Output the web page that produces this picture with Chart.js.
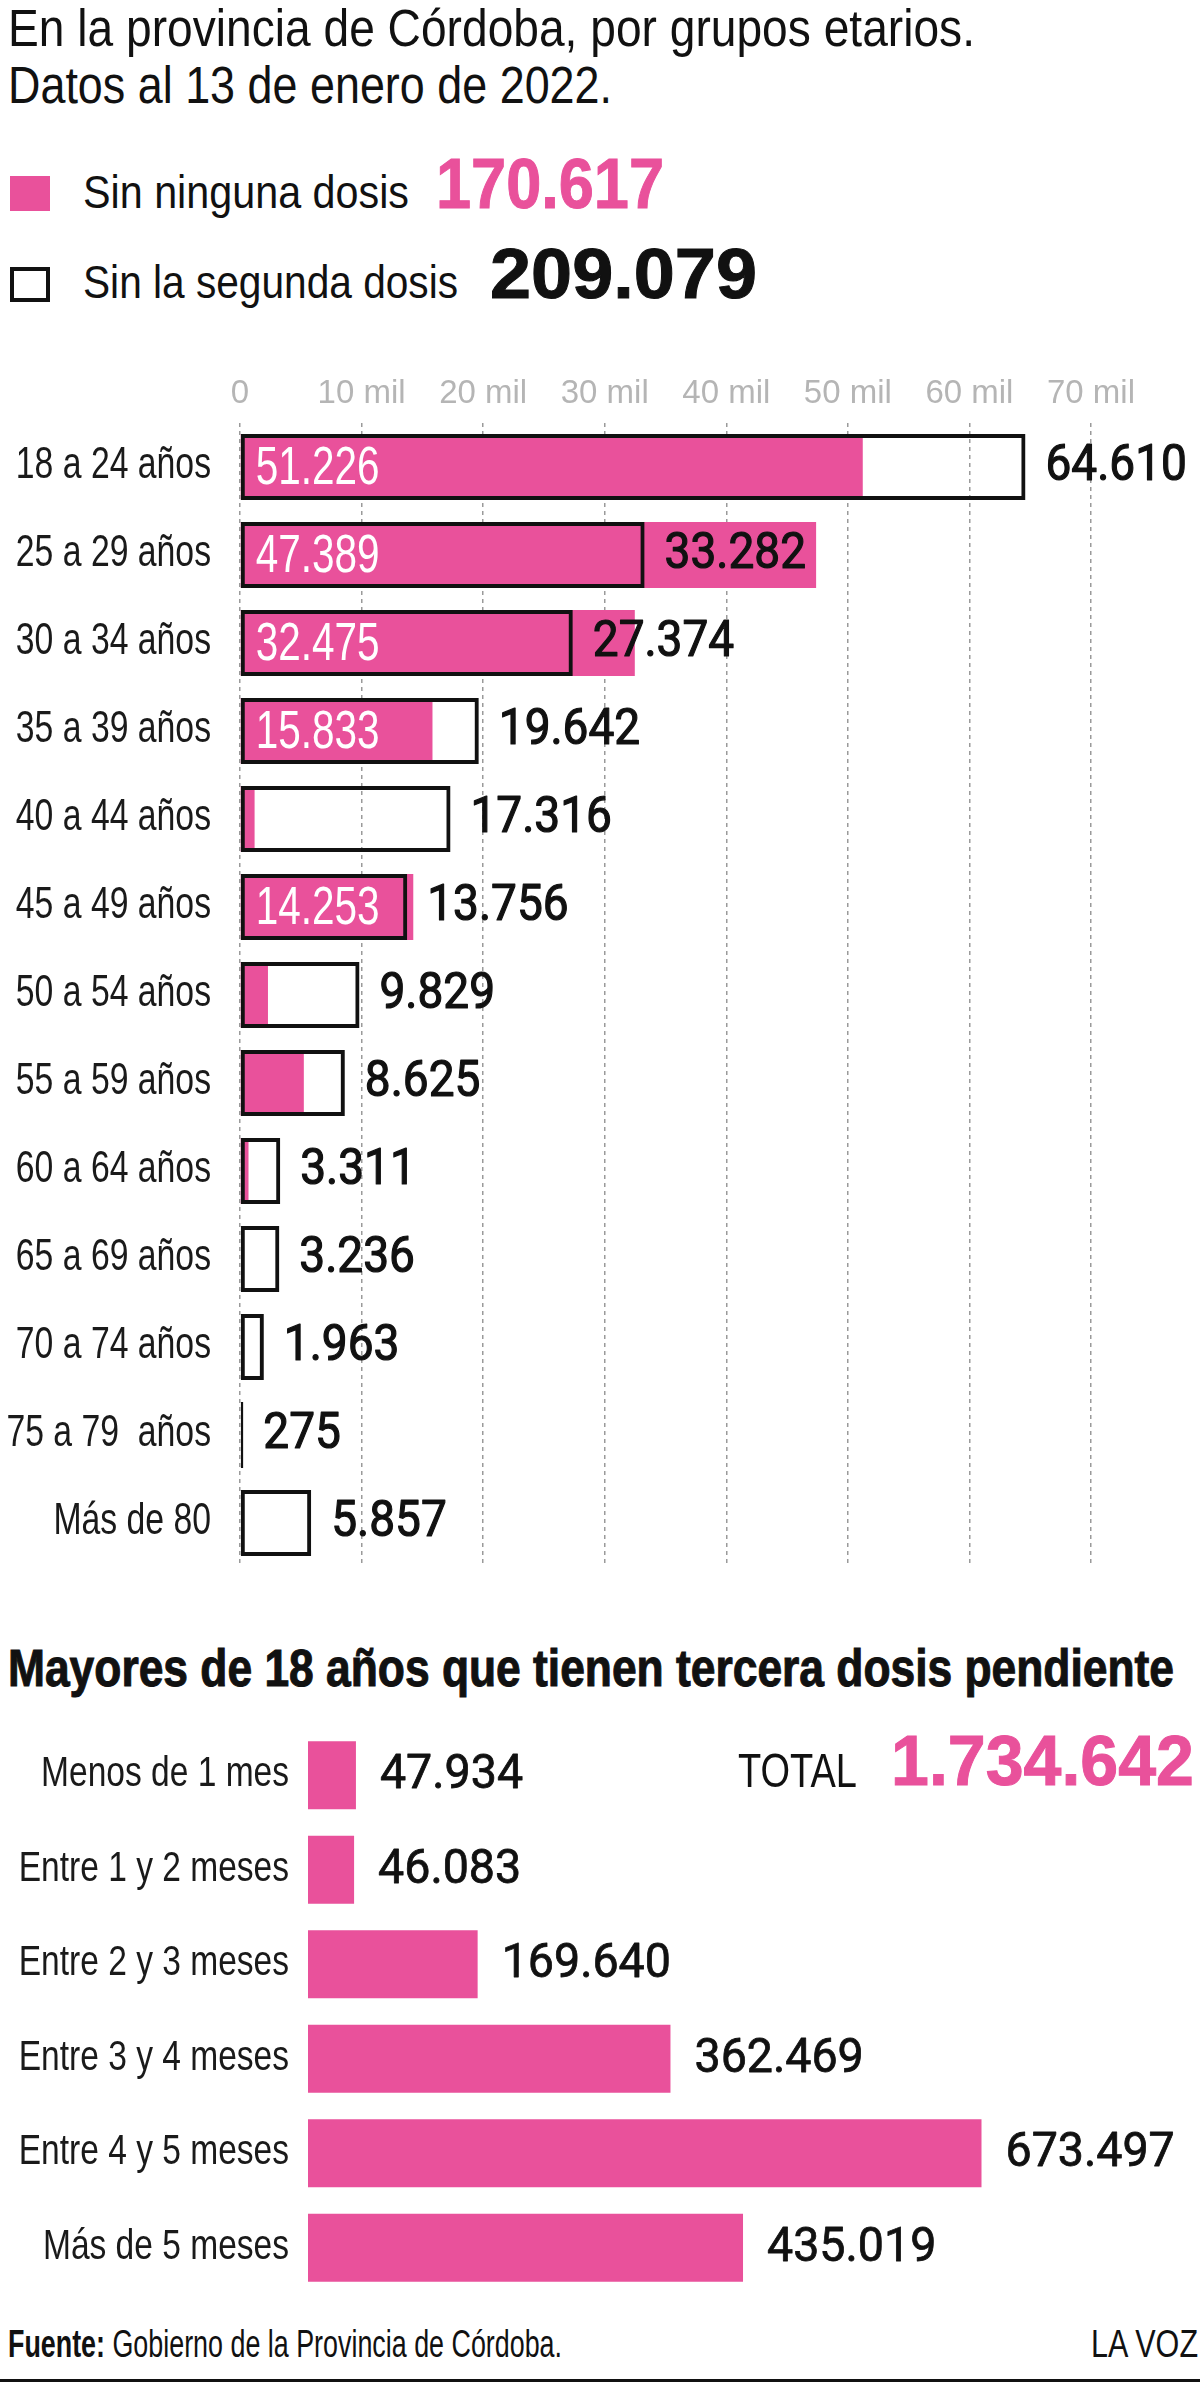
<!DOCTYPE html>
<html lang="es">
<head>
<meta charset="utf-8">
<title>Córdoba - dosis pendientes</title>
<script src="https://cdn.jsdelivr.net/npm/chart.js@4.4.0/dist/chart.umd.min.js"></script>
<style>
  html, body { margin:0; padding:0; background:#fff; }
  body { width:1200px; height:2400px; position:relative; overflow:hidden; }
  canvas { position:absolute; left:0; }
  .t { position:absolute; white-space:nowrap; line-height:1; color:#111; z-index:2; }
  #rule { position:absolute; left:0; width:1200px; top:2379px; height:3px; background:#111; }
</style>
</head>
<body>
<canvas id="c1" width="1200" height="1240" style="top:340px"></canvas>
<canvas id="c2" width="1200" height="600" style="top:1720px"></canvas>
<div id="legPink" style="position:absolute;left:10px;top:176px;width:40px;height:35px;background:#E9519B"></div>
<div id="legBox" style="position:absolute;left:10px;top:267px;width:40px;height:35px;border:4px solid #111;box-sizing:border-box"></div>
<div id="rule"></div>
<script>
// ---------------- DATA ----------------
const ageGroups = ['18 a 24 años','25 a 29 años','30 a 34 años','35 a 39 años','40 a 44 años','45 a 49 años','50 a 54 años','55 a 59 años','60 a 64 años','65 a 69 años','70 a 74 años','75 a 79  años','Más de 80'];
const sinNingunaDosis = [51226, 47389, 32475, 15833, 1200, 14253, 2300, 5250, 700, 0, 0, 0, 0];
const sinSegundaDosis = [64610, 33282, 27374, 19642, 17316, 13756, 9829, 8625, 3311, 3236, 1963, 275, 5857];
const xTickValues = [0, 10000, 20000, 30000, 40000, 50000, 60000, 70000];
const xTickLabels = ['0', '10 mil', '20 mil', '30 mil', '40 mil', '50 mil', '60 mil', '70 mil'];
const totalSinNinguna = 170617;
const totalSinSegunda = 209079;

const pendingGroups = ['Menos de 1 mes','Entre 1 y 2 meses','Entre 2 y 3 meses','Entre 3 y 4 meses','Entre 4 y 5 meses','Más de 5 meses'];
const terceraDosisPendiente = [47934, 46083, 169640, 362469, 673497, 435019];
const totalTercera = 1734642;

const titleLines = ['En la provincia de Córdoba, por grupos etarios.', 'Datos al 13 de enero de 2022.'];
const legendLabels = ['Sin ninguna dosis', 'Sin la segunda dosis'];
const heading2 = 'Mayores de 18 años que tienen tercera dosis pendiente';
const sourceText = 'Gobierno de la Provincia de Córdoba.';

// ---------------- STYLE ----------------
const PINK = '#E9519B';
const SANS = '"Liberation Sans", Arial, sans-serif';
const NUM = 'Roboto, "Liberation Sans", sans-serif';
const fmt = n => String(n).replace(/\B(?=(\d{3})+(?!\d))/g, '.');

function place(html, o) {
  const d = document.createElement('div');
  d.className = 't';
  d.innerHTML = html;
  d.style.fontSize = o.size + 'px';
  d.style.fontFamily = o.fam || SANS;
  d.style.fontWeight = o.weight || 'normal';
  if (o.color) d.style.color = o.color;
  if (o.stroke) d.style.webkitTextStroke = o.stroke + 'px ' + (o.color || '#111');
  d.style.top = (o.b - 0.8465 * o.size) + 'px';
  if (o.right != null) { d.style.right = o.right + 'px'; d.style.transformOrigin = 'right center'; }
  else { d.style.left = o.x + 'px'; d.style.transformOrigin = 'left center'; }
  document.body.appendChild(d);
  if (o.w) {
    const r = d.getBoundingClientRect().width;
    if (r > 0) d.style.transform = 'scaleX(' + (o.w / r) + ')';
  }
  return d;
}

// Titles / legend
place(titleLines[0], {x:8, b:46, size:51, w:967});
place(titleLines[1], {x:8, b:103, size:51, w:604});
place(legendLabels[0], {x:83, b:208, size:46, w:326});
place(fmt(totalSinNinguna), {x:436, b:208, size:70, weight:'bold', fam:SANS, color:PINK, w:228, stroke:1});
place(legendLabels[1], {x:83, b:298, size:46, w:375});
place(fmt(totalSinSegunda), {x:490, b:298, size:70, weight:'bold', fam:SANS, w:267, stroke:1});
place(heading2, {x:8, b:1686, size:51, weight:'bold', w:1166, stroke:1});
place('TOTAL', {x:738, b:1787, size:49, w:119});
place(fmt(totalTercera), {x:891, b:1785, size:70, weight:'bold', fam:SANS, color:PINK, w:303, stroke:1});
place('<b>Fuente:</b> ' + sourceText, {x:8, b:2357, size:38, w:554});
place('LA VOZ', {right:2, b:2357, size:38, w:107});

// draw text compressed horizontally (condensed look); optional light stroke for a medium weight
function drawText(ctx, text, x, y, font, color, align, sx, stroke) {
  ctx.save();
  ctx.font = font;
  ctx.fillStyle = color;
  ctx.strokeStyle = color;
  ctx.textAlign = align;
  ctx.textBaseline = 'middle';
  ctx.translate(x, y);
  ctx.scale(sx, 1);
  ctx.fillText(text, 0, 0);
  if (stroke) { ctx.lineWidth = stroke; ctx.lineJoin = 'round'; ctx.strokeText(text, 0, 0); }
  ctx.restore();
}

// category labels drawn at the positions of the y scale's ticks
function categoryLabels(id, names, size, sx, pad) {
  return {
    id,
    afterDraw(chart) {
      const s = chart.scales.y;
      names.forEach((name, i) => {
        drawText(chart.ctx, name, s.right - pad, s.getPixelForTick(i) - 1, size + 'px ' + SANS, '#1a1a1a', 'right', sx);
      });
    }
  };
}

// ---------------- CHART 1 ----------------
const labels1 = {
  id: 'labels1',
  afterDatasetsDraw(chart) {
    const ctx = chart.ctx;
    const box = chart.getDatasetMeta(0);
    const pink = chart.getDatasetMeta(1);
    pink.data.forEach((el, i) => {
      if (sinNingunaDosis[i] >= 10000) drawText(ctx, fmt(sinNingunaDosis[i]), el.base + 15, el.y + 2, '54px ' + SANS, '#fff', 'left', 0.75);
    });
    box.data.forEach((el, i) => {
      drawText(ctx, fmt(sinSegundaDosis[i]), el.x + 20, el.y, '400 50px ' + NUM, '#111', 'left', 0.92, 1.2);
    });
  }
};

new Chart(document.getElementById('c1'), {
  type: 'bar',
  data: {
    labels: ageGroups,
    datasets: [
      { label: legendLabels[1], data: sinSegundaDosis, backgroundColor: 'rgba(0,0,0,0)', borderColor: '#111', borderWidth: 4, borderSkipped: false, grouped: false, barPercentage: 0.75, categoryPercentage: 1 },
      { label: legendLabels[0], data: sinNingunaDosis, backgroundColor: PINK, borderWidth: 0, grouped: false, barPercentage: 0.75, categoryPercentage: 1 }
    ]
  },
  options: {
    indexAxis: 'y',
    responsive: false,
    animation: false,
    devicePixelRatio: 1,
    layout: { padding: { left: 0, right: 109, top: 0, bottom: 13 } },
    plugins: { legend: { display: false }, tooltip: { enabled: false } },
    scales: {
      x: {
        position: 'top', min: 0, max: 70000,
        afterBuildTicks: s => { s.ticks = xTickValues.map(v => ({ value: v })); },
        afterFit: s => { s.height = 83; },
        ticks: { callback: (v, i) => xTickLabels[i], color: '#b5b5b5', font: { family: SANS, size: 33 }, padding: 9, maxRotation: 0, autoSkip: false },
        grid: { color: '#9a9a9a', lineWidth: 1.5, drawTicks: false },
        border: { display: false, dash: [4, 4] }
      },
      y: {
        afterFit: s => { s.width = 240; },
        ticks: { display: false, autoSkip: false },
        grid: { display: false },
        border: { display: false }
      }
    }
  },
  plugins: [labels1, categoryLabels('cats1', ageGroups, 45, 0.75, 29)]
});

// ---------------- CHART 2 ----------------
const labels2 = {
  id: 'labels2',
  afterDatasetsDraw(chart) {
    const meta = chart.getDatasetMeta(0);
    meta.data.forEach((el, i) => {
      drawText(chart.ctx, fmt(terceraDosisPendiente[i]), el.x + 24, el.y + 1, '400 48px ' + NUM, '#111', 'left', 0.97, 0.8);
    });
  }
};

new Chart(document.getElementById('c2'), {
  type: 'bar',
  data: {
    labels: pendingGroups,
    datasets: [
      { label: heading2, data: terceraDosisPendiente, backgroundColor: PINK, borderWidth: 0, barPercentage: 0.72, categoryPercentage: 1 }
    ]
  },
  options: {
    indexAxis: 'y',
    responsive: false,
    animation: false,
    devicePixelRatio: 1,
    layout: { padding: { left: 0, right: 92, top: 8, bottom: 25 } },
    plugins: { legend: { display: false }, tooltip: { enabled: false } },
    scales: {
      x: { display: false, min: 0, max: 800000 },
      y: {
        afterFit: s => { s.width = 308; },
        ticks: { display: false, autoSkip: false },
        grid: { display: false },
        border: { display: false }
      }
    }
  },
  plugins: [labels2, categoryLabels('cats2', pendingGroups, 43, 0.78, 19)]
});
</script>
</body>
</html>
